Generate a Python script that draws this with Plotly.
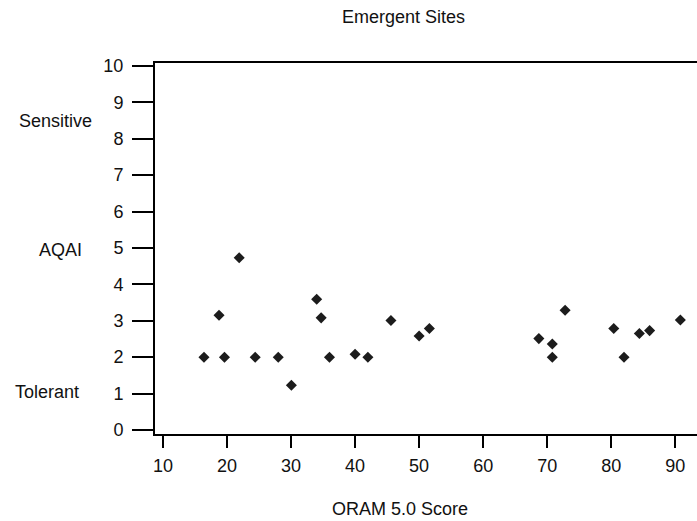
import plotly.graph_objects as go

# ORAM 5.0 score vs. AQAI for emergent wetland sites
oram_score = [16.4, 18.75, 19.6, 21.9, 24.4, 28.0, 30.05, 34.0, 34.7, 36.0,
              40.0, 42.0, 45.6, 50.0, 51.6,
              68.7, 70.8, 70.8, 72.8, 80.4, 82.0, 84.4, 86.0, 90.8]
aqai = [2.0, 3.15, 2.0, 4.73, 2.0, 2.0, 1.23, 3.59, 3.08, 2.0,
        2.08, 2.0, 3.01, 2.58, 2.79,
        2.51, 2.36, 2.0, 3.29, 2.79, 2.0, 2.65, 2.73, 3.02]

x_ticks = [10, 20, 30, 40, 50, 60, 70, 80, 90]
y_ticks = [0, 1, 2, 3, 4, 5, 6, 7, 8, 9, 10]

# side labels along the AQAI axis: (text, y value, x centre in paper units)
side_labels = [("Sensitive", 8.5, -0.1845), ("AQAI", 4.95, -0.175), ("Tolerant", 1.05, -0.199)]

FONT = "Liberation Sans, Arial, sans-serif"

fig = go.Figure()
fig.add_trace(go.Scatter(
    x=oram_score, y=aqai, mode="markers",
    marker=dict(symbol="diamond", size=8.5, color="#1c1c1c",
                line=dict(width=0)),
    showlegend=False, hoverinfo="x+y",
))

fig.update_layout(
    width=697, height=521,
    margin=dict(l=155, r=0, t=63, b=87),
    paper_bgcolor="white", plot_bgcolor="white",
    font=dict(family=FONT, size=18, color="#111"),
    xaxis=dict(range=[8.75, 93.4], tickvals=x_ticks, ticks="outside",
               ticklen=12, tickwidth=2, tickcolor="black",
               showline=True, linewidth=2, linecolor="black", mirror=True,
               showgrid=False, zeroline=False, ticklabelstandoff=2,
               tickfont=dict(family=FONT, size=18, color="#111")),
    yaxis=dict(range=[-0.11, 10.08], tickvals=y_ticks, ticks="outside",
               ticklen=21, tickwidth=2, tickcolor="black",
               showline=True, linewidth=2, linecolor="black",
               showgrid=False, zeroline=False, ticklabelstandoff=5,
               tickfont=dict(family=FONT, size=18, color="#111")),
)

annotations = [
    dict(text="Emergent Sites", x=0.4576, y=1.124, xref="paper", yref="paper",
         xanchor="center", yanchor="middle", showarrow=False,
         font=dict(family=FONT, size=18, color="#111")),
    dict(text="ORAM 5.0 Score", x=0.452, y=-0.202, xref="paper", yref="paper",
         xanchor="center", yanchor="middle", showarrow=False,
         font=dict(family=FONT, size=18, color="#111")),
]
for text, yv, xp in side_labels:
    annotations.append(dict(text=text, x=xp, y=yv, xref="paper", yref="y",
                            xanchor="center", yanchor="middle", showarrow=False,
                            font=dict(family=FONT, size=18, color="#111")))
fig.update_layout(annotations=annotations)

fig.write_html("out.html")
